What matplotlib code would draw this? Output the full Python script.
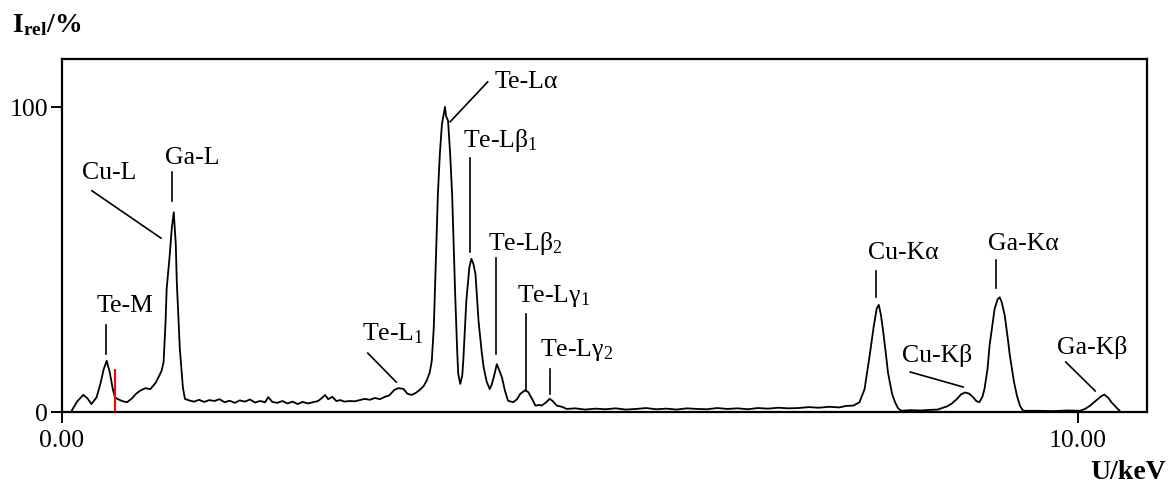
import numpy as np
import matplotlib
matplotlib.use("Agg")
import matplotlib.pyplot as plt

plt.rcParams['font.family'] = ['Liberation Serif', 'DejaVu Serif']
plt.rcParams['mathtext.fontset'] = 'custom'
plt.rcParams['mathtext.rm'] = 'Liberation Serif'
plt.rcParams['mathtext.it'] = 'Liberation Serif:italic'
plt.rcParams['mathtext.bf'] = 'Liberation Serif:bold'

# EDX spectrum, energy in keV and relative intensity in %
energy = [
    0.095, 0.15, 0.21, 0.25, 0.29, 0.34, 0.38, 0.41, 0.44, 0.47, 0.50, 0.52,
    0.55, 0.60, 0.64, 0.69, 0.73, 0.77, 0.82, 0.87, 0.92, 0.95, 0.98, 1.00,
    1.02, 1.03, 1.06, 1.08, 1.10, 1.12, 1.13, 1.16, 1.19, 1.21,
    1.25, 1.30, 1.35, 1.40, 1.45, 1.50, 1.55, 1.60, 1.65, 1.70, 1.75, 1.80,
    1.85, 1.90, 1.95, 2.00, 2.03, 2.07, 2.12, 2.17, 2.22, 2.27, 2.32, 2.37,
    2.42, 2.47, 2.52, 2.56, 2.59, 2.62, 2.66, 2.70, 2.74, 2.78, 2.83, 2.88,
    2.93, 2.98, 3.03, 3.08, 3.13, 3.18, 3.22, 3.27, 3.31, 3.36, 3.40, 3.44,
    3.48, 3.52, 3.56, 3.59, 3.62, 3.64, 3.66, 3.67, 3.70, 3.72, 3.74, 3.76,
    3.77, 3.78, 3.80, 3.82, 3.84, 3.87, 3.89, 3.90, 3.92, 3.94, 3.95, 3.98,
    4.01, 4.03, 4.05, 4.07, 4.10, 4.13, 4.15, 4.18, 4.21, 4.23, 4.25, 4.28,
    4.30, 4.33, 4.36, 4.39, 4.44, 4.48, 4.51, 4.56, 4.59, 4.61, 4.64, 4.66,
    4.70, 4.72, 4.76, 4.80, 4.83, 4.87, 4.92, 4.97,
    5.05, 5.15, 5.25, 5.35, 5.45, 5.55, 5.65, 5.75, 5.85, 5.95, 6.05, 6.15,
    6.25, 6.35, 6.45, 6.55, 6.65, 6.75, 6.85, 6.95, 7.05, 7.15, 7.25, 7.35,
    7.45, 7.55, 7.65, 7.72, 7.79, 7.85, 7.90, 7.95, 7.99, 8.02, 8.04, 8.06,
    8.08, 8.11, 8.13, 8.17, 8.20, 8.23, 8.26, 8.35, 8.45, 8.55, 8.62, 8.68,
    8.71, 8.76, 8.81, 8.85, 8.89, 8.93, 8.97, 9.00, 9.03, 9.06, 9.08, 9.11,
    9.13, 9.16, 9.18, 9.21, 9.23, 9.25, 9.28, 9.31, 9.33, 9.37, 9.40, 9.43,
    9.46, 9.60, 9.75, 9.90, 10.02, 10.07, 10.12, 10.18, 10.23, 10.26, 10.30,
    10.33, 10.37, 10.41,
]
intensity = [
    0.4, 3.5, 5.6, 4.5, 2.6, 4.8, 9.5, 14.0, 16.8, 13.0, 7.5, 4.9,
    4.2, 3.5, 3.2, 4.5, 6.0, 7.0, 7.8, 7.5, 9.5, 11.4, 13.5, 16.3,
    30.0, 40.3, 51.3, 60.0, 65.5, 55.0, 42.6, 20.7, 8.0, 4.3,
    3.8, 3.4, 4.0, 3.3, 3.9, 3.6, 4.2, 3.2, 3.7, 3.0, 3.8, 3.4,
    4.1, 3.1, 3.6, 3.2, 4.9, 3.3, 3.0, 3.6, 2.8, 3.4, 2.6, 3.3,
    2.8, 3.2, 3.6, 4.6, 5.6, 4.2, 5.0, 3.6, 3.9, 3.4, 3.6, 3.5,
    3.9, 4.3, 4.0, 4.6, 4.2, 5.0, 5.4, 7.2, 7.8, 7.6, 6.0, 5.6,
    6.2, 7.2, 8.5, 10.3, 13.0, 16.8, 28.0, 38.7, 71.5, 85.0, 94.4, 98.0,
    100.0, 97.0, 95.5, 85.0, 71.5, 38.7, 20.0, 12.5, 9.2, 12.0, 16.8, 36.5,
    47.5, 50.2, 48.5, 45.2, 29.9, 20.0, 14.7, 10.0, 7.5, 9.0, 11.4, 15.7,
    14.0, 11.4, 7.0, 3.7, 3.2, 4.2, 5.9, 7.2, 6.5, 5.3, 3.5, 2.1,
    2.3, 2.1, 3.0, 4.3, 3.6, 2.1, 1.7, 1.0,
    1.2, 0.8, 1.1, 0.9, 1.2, 0.8, 1.0, 1.3, 0.9, 1.1, 0.8, 1.2,
    1.0, 0.9, 1.3, 1.0, 1.2, 0.9, 1.3, 1.1, 1.4, 1.2, 1.3, 1.6,
    1.4, 1.7, 1.5, 2.0, 2.1, 3.2, 7.5, 18.5, 28.0, 34.0, 35.1, 32.0,
    27.2, 19.0, 13.0, 6.0, 3.2, 1.2, 0.4, 0.6, 0.5, 0.7, 0.8, 1.5,
    1.8, 2.8, 4.3, 5.8, 6.4, 6.0, 4.8, 3.6, 3.2, 5.0, 7.5, 14.0,
    21.7, 29.0, 33.8, 37.0, 37.6, 36.0, 31.6, 24.0, 18.5, 10.0, 5.3, 2.0,
    0.4, 0.4, 0.3, 0.5, 0.4, 1.0, 2.1, 3.8, 5.2, 5.7, 4.6,
    3.2, 1.8, 0.4,
]

# red marker line
marker_kev = 0.52
marker_height = 14.0

# peak labels: text, text anchor (keV, %), leader line start and end
peak_labels = ["Te-M", "Cu-L", "Ga-L", r"Te-L$\mathregular{_1}$", "Te-Lα",
               r"Te-Lβ$\mathregular{_1}$", r"Te-Lβ$\mathregular{_2}$",
               r"Te-Lγ$\mathregular{_1}$", r"Te-Lγ$\mathregular{_2}$",
               "Cu-Kα", "Ga-Kα", "Cu-Kβ", "Ga-Kβ"]
label_xy = [(0.34, 35.1), (0.20, 78.7), (1.01, 83.6), (2.95, 25.9), (4.26, 108.5),
            (3.95, 89.2), (4.19, 55.7), (4.48, 38.4), (4.71, 20.7),
            (7.93, 52.5), (9.11, 55.4), (8.27, 19.0), (9.79, 21.6)]
leader_from = [(0.433, 28.5), (0.295, 72.5), (1.083, 78.7), (3.01, 19.3), (4.19, 108.2),
               (4.02, 83.3), (4.27, 50.5), (4.57, 32.1), (4.80, 14.1),
               (8.01, 46.2), (9.19, 49.8), (8.35, 13.1), (9.88, 16.4)]
leader_to = [(0.433, 19.0), (0.974, 57.0), (1.083, 69.2), (3.29, 9.8), (3.82, 95.1),
             (4.02, 52.5), (4.27, 19.0), (4.57, 6.9), (4.80, 5.9),
             (8.01, 37.7), (9.19, 40.7), (8.87, 8.2), (10.17, 6.9)]

fig = plt.figure(figsize=(11.74, 4.85), dpi=100)
ax = fig.add_axes([62 / 1174, 1 - 413 / 485, (1147 - 62) / 1174, (413 - 60) / 485])

ax.plot(energy, intensity, color='black', linewidth=1.3)
ax.vlines(marker_kev, 0, marker_height, color='red', linewidth=1.5)

for text, (tx, ty), (x0, y0), (x1, y1) in zip(peak_labels, label_xy, leader_from, leader_to):
    ax.plot([x0, x1], [y0, y1], color='black', linewidth=1.2)
    ax.text(tx, ty, text, fontsize=18.5, ha='left', va='center')

ax.set_xlim(0, 10.68)
ax.set_ylim(0, 115.7)
ax.set_xticks([0, 10])
ax.set_xticklabels(["0.00", "10.00"])
ax.set_yticks([0, 100])
ax.set_yticklabels(["0", "100"])
ax.tick_params(direction='out', length=8, width=1.4, labelsize=18.5)
ax.tick_params(axis='x', pad=4)
ax.tick_params(axis='y', pad=2)
for spine in ax.spines.values():
    spine.set_linewidth(1.6)

fig.text(12 / 1174, 1 - 32 / 485, r"I$\mathregular{_{rel}}$/%", fontsize=20,
         fontweight='bold', ha='left', va='baseline')
fig.text(1166 / 1174, 1 - 479 / 485, "U/keV", fontsize=20, fontweight='bold',
         ha='right', va='baseline')

fig.savefig("out.png", dpi=100)
